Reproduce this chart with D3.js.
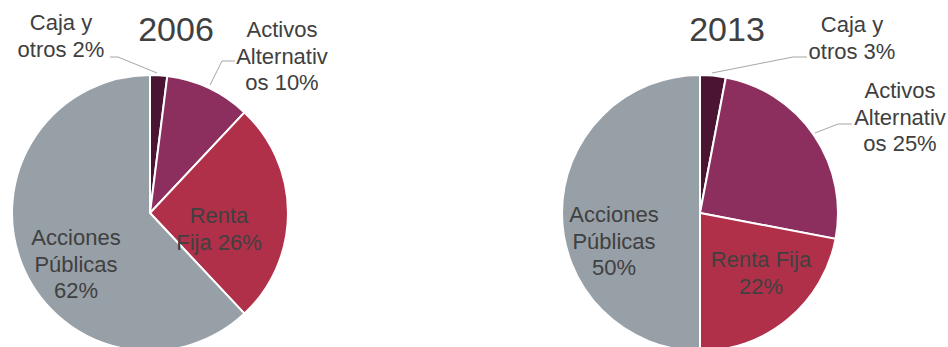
<!DOCTYPE html>
<html>
<head>
<meta charset="utf-8">
<script src="https://cdn.jsdelivr.net/npm/d3@7"></script>
<style>
  html, body { margin: 0; padding: 0; background: #fff; }
  svg text { font-family: "Liberation Sans", Arial, sans-serif; fill: #404040; }
</style>
</head>
<body>
<div id="app"></div>
<script>
// data
const categories = ["Caja y otros", "Activos Alternativos", "Renta Fija", "Acciones Públicas"];
const years = ["2006", "2013"];
const values2006 = [2, 10, 26, 62];
const values2013 = [3, 25, 22, 50];
const colors = ["#4b1432", "#8c2f5f", "#b0304a", "#979fa7"];

// label lines (text as Excel wrapped it) and placement relative to pie centre
const labels2006 = [
    { lines: ["Caja y", "otros 2%"], x: -89, y: -183, leader: [[-40, -156], [-32, -156], [7, -140]] },
    { lines: ["Activos", "Alternativ", "os 10%"], x: 132, y: -176, leader: [[85, -152], [72, -152], [60, -128]] },
    { lines: ["Renta", "Fija 26%"], x: 69, y: 10 },
    { lines: ["Acciones", "Públicas", "62%"], x: -74, y: 32 }
];
const labels2013 = [
    { lines: ["Caja y", "otros 3%"], x: 152, y: -181, leader: [[107, -156], [93, -156], [12, -140]] },
    { lines: ["Activos", "Alternativ", "os 25%"], x: 200, y: -115, leader: [[152, -89], [138, -89], [115, -80]] },
    { lines: ["Renta Fija", "22%"], x: 61, y: 54 },
    { lines: ["Acciones", "Públicas", "50%"], x: -86, y: 9 }
];

const width = 948, height = 347;
const radius = 138;
const lineHeight = 26.5;

const svg = d3.select("#app")
    .append("svg")
    .attr("width", width)
    .attr("height", height);

const pie = d3.pie().sort(null).value(d => d);
const arc = d3.arc().innerRadius(0).outerRadius(radius);

const charts = [
    { year: years[0], values: values2006, labels: labels2006, cx: 150, cy: 213, titleX: 176 },
    { year: years[1], values: values2013, labels: labels2013, cx: 700, cy: 213, titleX: 727 }
];

for (const c of charts) {
    const g = svg.append("g").attr("transform", `translate(${c.cx},${c.cy})`);

    g.selectAll("path.slice")
        .data(pie(c.values))
        .enter()
        .append("path")
        .attr("class", "slice")
        .attr("d", arc)
        .attr("fill", (d, i) => colors[i])
        .attr("stroke", "#fff")
        .attr("stroke-width", 2);

    // title
    svg.append("text")
        .attr("x", c.titleX)
        .attr("y", 41)
        .attr("text-anchor", "middle")
        .attr("font-size", "34px")
        .text(c.year);

    // leader lines
    c.labels.filter(l => l.leader).forEach(l => {
        g.append("path")
            .attr("d", d3.line()(l.leader))
            .attr("fill", "none")
            .attr("stroke", "#a6a6a6")
            .attr("stroke-width", 1);
    });

    // labels
    c.labels.forEach(l => {
        const t = g.append("text")
            .attr("text-anchor", "middle")
            .attr("font-size", "22px");
        l.lines.forEach((s, i) => {
            t.append("tspan")
                .attr("x", l.x)
                .attr("y", l.y + i * lineHeight)
                .text(s);
        });
    });
}
</script>
</body>
</html>
